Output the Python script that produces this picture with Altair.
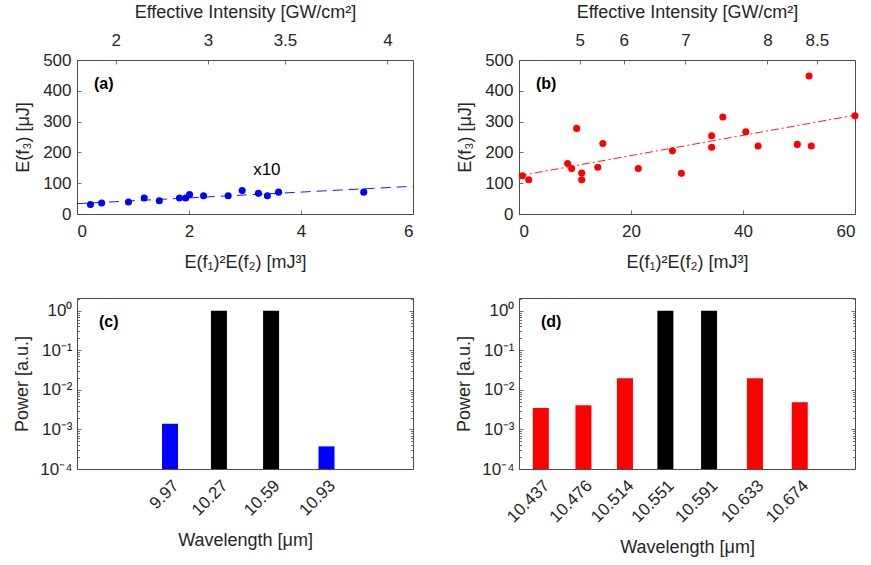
import altair as alt
import pandas as pd

# ---------------- data ----------------
a_x = [0.24, 0.44, 0.92, 1.20, 1.47, 1.83, 1.94, 2.01, 2.26, 2.70, 2.95, 3.24, 3.40, 3.60, 5.12]
a_y = [31, 36, 39, 52, 43, 52, 52, 63, 59, 59, 76, 67, 59, 71, 71]
a_fit_x = [0, 6]
a_fit_y = [33.5, 90]

b_x = [0.6, 1.74, 8.68, 9.4, 10.3, 11.2, 11.2, 14.07, 14.97, 21.3, 27.4, 29.0, 34.4, 34.4,
       36.4, 40.5, 42.7, 49.7, 52.2, 60.0, 51.8]
b_y = [124, 111, 164, 148, 278, 133, 111, 152, 229, 148, 205, 132, 254, 217,
       315, 267, 221, 226, 221, 319, 448]
b_fit_x = [0, 60]
b_fit_y = [124, 321]

a_top_ticks = [2, 3, 3.5, 4]
b_top_ticks = [5, 6, 7, 8, 8.5]
K_INT = 2.26  # intensity = K * E^(1/3)

a_note_x = [3.39]
a_note_y = [143]
a_note_t = ["x10"]

c_wl = [9.97, 10.27, 10.59, 10.93]
c_pow = [1.39e-3, 1.0, 1.0, 3.73e-4]
c_col = ["#0000FF", "#000000", "#000000", "#0000FF"]

d_wl = [10.437, 10.476, 10.514, 10.551, 10.591, 10.633, 10.674]
d_pow = [3.5e-3, 4.1e-3, 1.97e-2, 1.0, 1.0, 1.97e-2, 4.9e-3]
d_col = ["#FF0000", "#FF0000", "#FF0000", "#000000", "#000000", "#FF0000", "#FF0000"]

major_y = [1e-4, 1e-3, 1e-2, 1e-1, 1]
minor_y = [k * 10.0 ** d for d in range(-4, 1) for k in range(2, 10) if k * 10.0 ** d <= 2.05]

FONT = "Liberation Sans"
TXT = "#262626"
W, H_TOP, H_BOT = 336, 154, 171
TS = 4  # tick length (inward)


def scatter_panel(xs, ys, fx, fy, xdom, xvals, color, dash, top_ticks, label, note=None):
    pts = pd.DataFrame({"x": xs, "y": ys})
    fit = pd.DataFrame({"x": fx, "y": fy})
    xs_ = alt.Scale(domain=xdom, nice=False, zero=False)
    ys_ = alt.Scale(domain=[0, 500], nice=False)
    xax = alt.Axis(orient="bottom", values=xvals, title="E(f₁)²E(f₂) [mJ³]", tickSize=TS, offset=-TS,
                   labelPadding=9, titlePadding=14, format="d", labelOverlap=False)
    yax = alt.Axis(orient="left", values=[0, 100, 200, 300, 400, 500], title="E(f₃) [μJ]", tickSize=TS,
                   offset=-TS, labelPadding=6, titlePadding=10, labelOverlap=False, tickCount=6)
    p = alt.Chart(pts).mark_circle(size=50, color=color, opacity=1).encode(
        x=alt.X("x:Q", scale=xs_, axis=xax), y=alt.Y("y:Q", scale=ys_, axis=yax))
    ln = alt.Chart(fit).mark_line(color=color, strokeWidth=0.9, strokeDash=dash).encode(
        x=alt.X("x:Q", scale=xs_, axis=None), y=alt.Y("y:Q", scale=ys_, axis=yax))
    # top axis: same linear scale, ticks placed where E = (I/K)^3
    top_pos = [(t / K_INT) ** 3 for t in top_ticks]
    top = alt.Chart(pd.DataFrame({"x": top_pos, "y": [0] * len(top_pos)})).mark_point(opacity=0).encode(
        x=alt.X("x:Q", scale=xs_,
                axis=alt.Axis(orient="top", values=top_pos, title="Effective Intensity [GW/cm²]",
                              tickSize=TS, offset=-TS, labelPadding=11, titlePadding=10,
                              labelOverlap=False,
                              labelExpr="format(%g*pow(datum.value,1/3),'.3~g')" % K_INT)),
        y=alt.Y("y:Q", scale=ys_, axis=yax))
    lab = alt.Chart(pd.DataFrame({"t": [label]})).mark_text(
        align="left", baseline="middle", fontSize=16, fontWeight="bold", font=FONT, color="#000000",
        dx=17, dy=24
    ).encode(x=alt.X(datum=xdom[0], scale=xs_, axis=None), y=alt.Y(datum=500, scale=ys_, axis=yax),
             text="t:N")
    layers = [ln, p]
    if note is not None:
        nd = pd.DataFrame({"x": note[0], "y": note[1], "t": note[2]})
        layers.append(alt.Chart(nd).mark_text(
            fontSize=17, font=FONT, color="#000000", align="center", baseline="middle").encode(
            x=alt.X("x:Q", scale=xs_, axis=None), y=alt.Y("y:Q", scale=ys_, axis=yax), text="t:N"))
    layers += [top, lab]
    return alt.layer(*layers).resolve_axis(x="independent").properties(width=W, height=H_TOP)


pa = scatter_panel(a_x, a_y, a_fit_x, a_fit_y, [0, 6], [0, 2, 4, 6], "#0000FF", [10, 6],
                   a_top_ticks, "(a)", note=(a_note_x, a_note_y, a_note_t))
pb = scatter_panel(b_x, b_y, b_fit_x, b_fit_y, [0, 60], [0, 20, 40, 60], "#FF0000", [8, 3, 2, 3],
                   b_top_ticks, "(b)")

LABEL_EXPR = "['10⁻⁴','10⁻³','10⁻²','10⁻¹','10⁰'][round(log(datum.value)/LN10)+4]"


def bar_panel(wl, pw, cols, xdom, fmt, label):
    df = pd.DataFrame({"wl": wl, "p": pw, "c": cols})
    xs_ = alt.Scale(domain=xdom, nice=False, zero=False)
    ys_ = alt.Scale(type="log", domain=[1e-4, 2.1], nice=False)
    bars = alt.Chart(df).mark_bar(size=16).encode(
        x=alt.X("wl:Q", scale=xs_, axis=alt.Axis(orient="bottom", values=wl, format=fmt, labelAngle=-45,
                                                  ticks=False, labelPadding=8, titlePadding=13,
                                                  labelOverlap=False, title="Wavelength [μm]")),
        y=alt.Y("p:Q", scale=ys_, axis=alt.Axis(orient="left", values=major_y, labelExpr=LABEL_EXPR,
                                                 tickSize=TS, offset=-TS, labelPadding=5,
                                                 labelOverlap=False,
                                                 title="Power [a.u.]", titlePadding=8)),
        y2=alt.Y2(datum=1e-4),
        color=alt.Color("c:N", scale=None))

    def tick_layer(vals, orient, size):
        d = pd.DataFrame({"wl": [xdom[0]] * len(vals), "p": vals})
        return alt.Chart(d).mark_point(opacity=0).encode(
            x=alt.X("wl:Q", scale=xs_),
            y=alt.Y("p:Q", scale=ys_, axis=alt.Axis(orient=orient, values=vals, labels=False, title=None,
                                                     tickSize=size, offset=-size)))

    lab = alt.Chart(pd.DataFrame({"t": [label]})).mark_text(
        align="left", baseline="middle", fontSize=16, fontWeight="bold", font=FONT, color="#000000",
        dx=17, dy=24
    ).encode(x=alt.X(datum=xdom[0], scale=xs_), y=alt.Y(datum=2.1, scale=ys_, axis=None), text="t:N")

    return alt.layer(
        bars,
        tick_layer(minor_y, "left", 2.5),
        tick_layer(major_y, "right", TS),
        tick_layer(minor_y, "right", 2.5),
        lab,
    ).resolve_axis(y="independent").properties(width=W, height=H_BOT)


pc = bar_panel(c_wl, c_pow, c_col, [9.43, 11.43], ".2f", "(c)")
pd_ = bar_panel(d_wl, d_pow, d_col, [10.4216, 10.720], ".3f", "(d)")

chart = alt.concat(pa, pb, pc, pd_, columns=2,
                   spacing=alt.RowColnumber(row=84, column=106), bounds="flush").properties(
    padding={"left": 13, "top": 2, "right": 5, "bottom": 5}, background="white",
).configure_view(stroke="#4d4d4d", strokeWidth=1).configure_axis(
    labelFont=FONT, labelFontSize=17, labelColor=TXT, titleFont=FONT, titleFontSize=18,
    titleFontWeight="normal", titleColor=TXT, grid=False, domain=False, tickColor="#4d4d4d",
    tickWidth=0.8, labelOverlap=False,
)

chart.save("out.html", embed_options={"renderer": "svg", "actions": False})
